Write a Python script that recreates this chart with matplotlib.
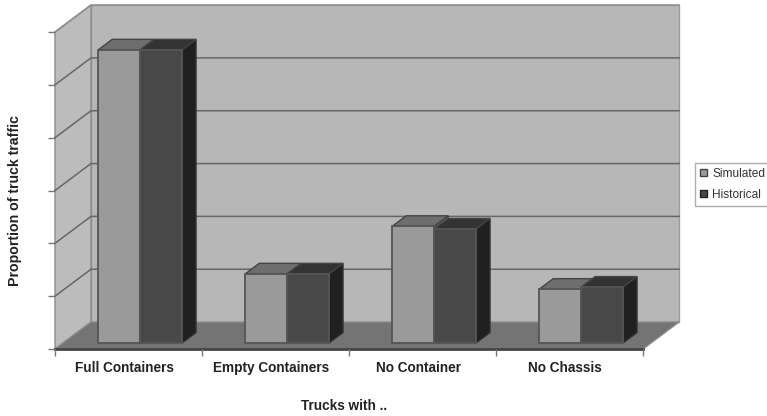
import matplotlib
matplotlib.use("Agg")
import matplotlib.pyplot as plt
from matplotlib.patches import Patch, Polygon

categories = ["Full Containers", "Empty Containers", "No Container", "No Chassis"]
simulated = [0.555, 0.131, 0.221, 0.102]
historical = [0.555, 0.131, 0.216, 0.106]
y_ticks = [0.0, 0.1, 0.2, 0.3, 0.4, 0.5, 0.6]

# oblique projection, all in data units
DEPTH_X = 36 / 147
DEPTH_Y = 0.051
BAR_NEAR = 0.22
BAR_FAR = 0.61
BAR_START = 0.24
BAR_W = 0.285

plt.rcParams["font.family"] = ["Liberation Sans", "DejaVu Sans"]


def pt(x, y, d=0.0):
    return (x + d * DEPTH_X, y + d * DEPTH_Y)


def face(ax, corners, color, edge="#555555", lw=1.0, z=2):
    ax.add_patch(Polygon(corners, closed=True, facecolor=color, edgecolor=edge,
                         linewidth=lw, zorder=z, clip_on=False, joinstyle="miter"))


def bar3d(ax, x0, x1, top, front, upper, side, z):
    n, f = BAR_NEAR, BAR_FAR
    face(ax, [pt(x1, 0, n), pt(x1, 0, f), pt(x1, top, f), pt(x1, top, n)], side, "#333333", z=z)
    face(ax, [pt(x0, top, n), pt(x1, top, n), pt(x1, top, f), pt(x0, top, f)], upper, "#444444", z=z)
    face(ax, [pt(x0, 0, n), pt(x1, 0, n), pt(x1, top, n), pt(x0, top, n)], front, "#555555", 1.3, z=z)


fig = plt.figure(figsize=(7.67, 4.16), dpi=100)
ax = fig.add_axes([55 / 767, 67 / 416, 588 / 767, 317 / 416])
ax.set_xlim(0, 4)
ax.set_ylim(0, 0.6)
for s in ax.spines.values():
    s.set_visible(False)
ax.patch.set_visible(False)

# walls and floor
top_y = y_ticks[-1]
face(ax, [pt(0, 0, 1), pt(4, 0, 1), pt(4, top_y, 1), pt(0, top_y, 1)], "#b7b7b7", "#999999", z=0)
face(ax, [pt(0, 0), pt(0, 0, 1), pt(0, top_y, 1), pt(0, top_y)], "#bcbcbc", "#8c8c8c", z=0)
ax.plot(*zip(pt(0, top_y), pt(0, top_y, 1), pt(4, top_y, 1)), color="#8f8f8f", lw=1.2, zorder=1, clip_on=False)

for v in y_ticks[1:-1]:
    ax.plot(*zip(pt(0, v), pt(0, v, 1), pt(4, v, 1)), color="#666666", lw=1.1, zorder=1, clip_on=False)

face(ax, [pt(0, 0), pt(4, 0), pt(4, 0, 1), pt(0, 0, 1)], "#747474", "#8a8a8a", z=1)
ax.plot(*zip(pt(0, 0), pt(4, 0)), color="#444444", lw=2, zorder=1.5, clip_on=False)

# bars, drawn left to right; the darker series sits in front of the lighter one's side
for i in range(len(categories)):
    x0 = i + BAR_START
    x1 = x0 + BAR_W
    x2 = x1 + BAR_W
    bar3d(ax, x0, x1, simulated[i], "#9a9a9a", "#6e6e6e", "#6e6e6e", 2 + i)
    bar3d(ax, x1, x2, historical[i], "#484848", "#333333", "#202020", 2.5 + i)

ax.set_yticks(y_ticks)
ax.set_yticklabels([])
ax.set_xticks(range(len(categories) + 1))
ax.set_xticklabels([])
ax.tick_params(axis="both", length=5, width=1, color="#777777", direction="out")

for i, name in enumerate(categories):
    ax.text(i + 0.47, -0.0365, name, ha="center", va="center", fontsize=9.8,
            fontweight="bold", color="#222222")

fig.text(15 / 767, 1 - 201 / 416, "Proportion of truck traffic", rotation=90, ha="center",
         va="center", fontsize=10.2, fontweight="bold", color="#222222")
fig.text(344.5 / 767, 1 - 406 / 416, "Trucks with ..", ha="center", va="center", fontsize=9.8,
         fontweight="bold", color="#222222")

handles = [Patch(facecolor="#9a9a9a", edgecolor="#444444", label="Simulated"),
           Patch(facecolor="#484848", edgecolor="#222222", label="Historical")]
leg = fig.legend(handles=handles, loc="upper left", bbox_to_anchor=(695 / 767, 1 - 163 / 416),
                 borderaxespad=0, fontsize=8.6, frameon=True, fancybox=False, edgecolor="#999999",
                 handlelength=0.6, handleheight=0.6, handletextpad=0.45, labelspacing=0.75,
                 borderpad=0.4, labelcolor="#333333")
leg.get_frame().set_linewidth(1.0)

fig.savefig("out.png", dpi=100)
